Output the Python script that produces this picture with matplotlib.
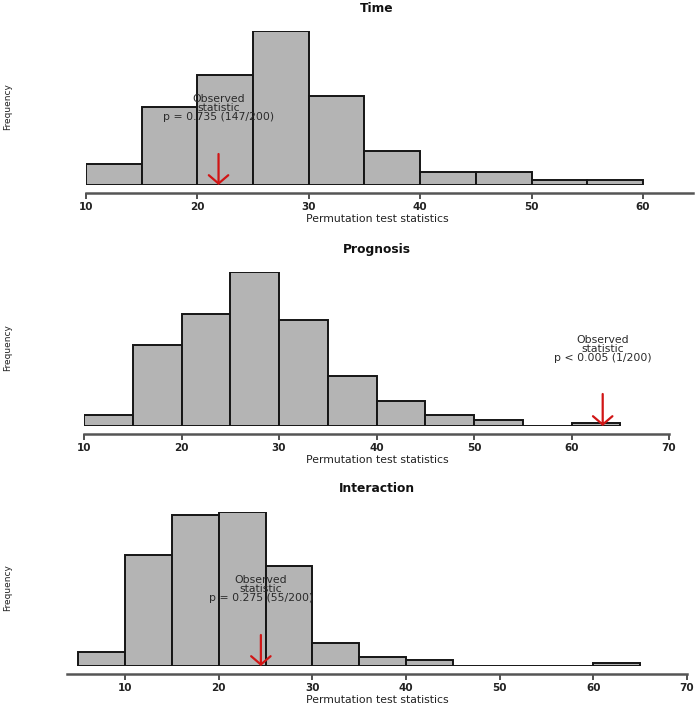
import numpy as np
import matplotlib
matplotlib.use("Agg")
import matplotlib.pyplot as plt

plt.rcParams['font.family'] = ['DejaVu Sans']

# histogram counts (bin width 5)
time_edges = [10, 15, 20, 25, 30, 35, 40, 45, 50, 55, 60]
time_counts = [8, 30, 42, 59, 34, 13, 5, 5, 2, 2]

prog_edges = [10, 15, 20, 25, 30, 35, 40, 45, 50, 55, 60, 65]
prog_counts = [4, 29, 40, 55, 38, 18, 9, 4, 2, 0, 1]

inter_edges = [5, 10, 15, 20, 25, 30, 35, 40, 45, 50, 55, 60, 65]
inter_counts = [5, 39, 53, 54, 35, 8, 3, 2, 0, 0, 0, 1]

titles = ["Time", "Prognosis", "Interaction"]
observed = [21.9, 63.2, 24.5]
notes = ["Observed\nstatistic\np = 0.735 (147/200)",
         "Observed\nstatistic\np < 0.005 (1/200)",
         "Observed\nstatistic\np = 0.275 (55/200)"]
tick_sets = [[10, 20, 30, 40, 50, 60],
             [10, 20, 30, 40, 50, 60, 70],
             [10, 20, 30, 40, 50, 60, 70]]

W, H = 700, 710
fig = plt.figure(figsize=(W / 100, H / 100), dpi=100)

# pixel layout per panel
panels = [
    dict(edges=time_edges, counts=time_counts, left=86, right=693, base=185,
         xlim=(10, 64.5), title_y=8, note_y=108, arrow_top=154),
    dict(edges=prog_edges, counts=prog_counts, left=84, right=669, base=426,
         xlim=(10, 70), title_y=249, note_y=349, arrow_top=394),
    dict(edges=inter_edges, counts=inter_counts, left=67, right=687, base=666,
         xlim=(3.8, 70), title_y=489, note_y=589, arrow_top=635),
]

for i, p in enumerate(panels):
    ax = fig.add_axes([p['left'] / W, 1 - p['base'] / H,
                       (p['right'] - p['left']) / W, 154 / H])
    edges = np.array(p['edges'])
    counts = np.array(p['counts'])
    ax.bar(edges[:-1], counts, width=np.diff(edges), align='edge',
           color='#b4b4b4', edgecolor='#151515', linewidth=1.4)
    ax.set_xlim(*p['xlim'])
    ax.set_ylim(0, counts.max())
    ax.set_yticks([])
    for s in ['top', 'right', 'left']:
        ax.spines[s].set_visible(False)
    ax.spines['bottom'].set_position(('outward', 6))
    ax.spines['bottom'].set_color('#555555')
    ax.spines['bottom'].set_linewidth(1.8)
    ax.set_xticks(tick_sets[i])
    ax.tick_params(axis='x', length=4, width=1.2, color='#333333', pad=2,
                   labelsize=7.5, labelcolor='#222222')
    for lab in ax.get_xticklabels():
        lab.set_fontweight('bold')

    # red arrow for the observed statistic
    ytop = (p['base'] - p['arrow_top']) / 154 * counts.max()
    ax.annotate('', xy=(observed[i], 0), xytext=(observed[i], ytop),
                arrowprops=dict(arrowstyle='->,head_length=0.6,head_width=0.7',
                                color='#d11515', lw=1.6, shrinkA=0, shrinkB=0),
                annotation_clip=False)
    ny = (p['base'] - p['note_y']) / 154 * counts.max()
    ax.text(observed[i], ny, notes[i], ha='center', va='center', fontsize=7.8,
            color='#2a2a2a', linespacing=0.92)

    fig.text(377 / W, 1 - p['title_y'] / H, titles[i], ha='center', va='center',
             fontsize=8.8, fontweight='bold', color='#111111')
    fig.text(377 / W, 1 - (p['base'] + 34) / H, "Permutation test statistics",
             ha='center', va='center', fontsize=7.8, color='#222222')
    fig.text(8 / W, 1 - (p['base'] - 78) / H, "Frequency", rotation=90,
             ha='center', va='center', fontsize=6.5, color='#222222')

fig.savefig("out.png", dpi=100)
